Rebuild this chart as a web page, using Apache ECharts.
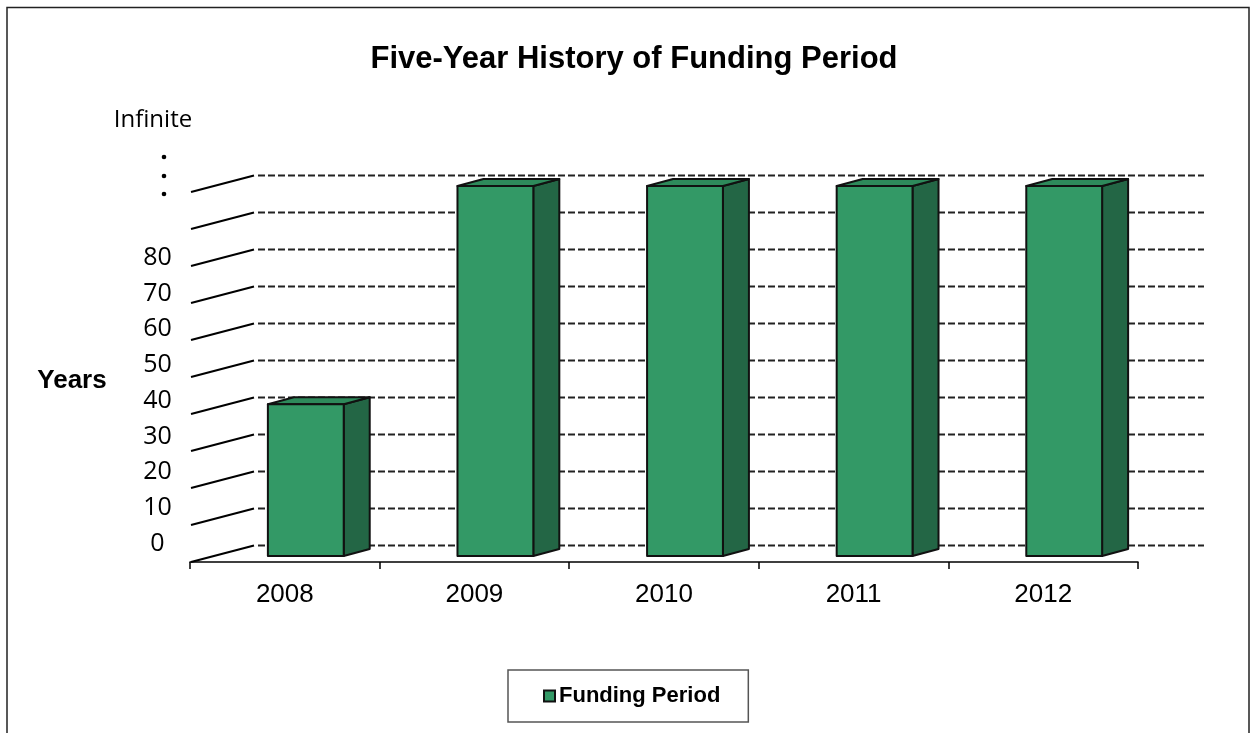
<!DOCTYPE html>
<html>
<head>
<meta charset="utf-8">
<script src="https://cdn.jsdelivr.net/npm/echarts@6/dist/echarts.min.js"></script>
<style>html,body{margin:0;padding:0;background:#fff}#c{width:1251px;height:733px}</style>
</head>
<body>
<div id="c"></div>
<script>
const categories = ['2008', '2009', '2010', '2011', '2012'];
const fundingPeriod = [41, 100, 100, 100, 100];
const gridValues = [0, 10, 20, 30, 40, 50, 60, 70, 80, 90, 100];
const labeledMax = 80;
const seriesName = 'Funding Period';

const DEPTH_X = 66, DEPTH_Y = -16.5;
const BAR_OFF_X = 21, BAR_OFF_Y = -6;
const BAR_DX = 26, BAR_DY = -7;
const FRONT = '#339966', TOP = '#2e8a5b', SIDE = '#236645', EDGE = '#111';

const chart = echarts.init(document.getElementById('c'));

const barData = categories.map((c, i) => [i, fundingPeriod[i]]);
const wallData = gridValues.map(v => [0, v]);

chart.setOption({
  animation: false,
  backgroundColor: '#fff',
  title: {
    text: 'Five-Year History of Funding Period',
    left: 629, top: 39, textAlign: 'center',
    textStyle: { fontFamily: 'Liberation Sans, Arial', fontWeight: 'bold', fontSize: 31, color: '#000' }
  },
  legend: {
    data: [{ name: seriesName, icon: 'rect', itemStyle: { color: FRONT, borderColor: EDGE, borderWidth: 2 } }],
    left: 508, top: 670,
    padding: [15, 28, 15, 35],
    itemWidth: 11, itemHeight: 11, itemGap: 5,
    borderColor: '#555', borderWidth: 1.5,
    textStyle: { fontFamily: 'Liberation Sans, Arial', fontWeight: 'bold', fontSize: 22, color: '#000', padding: [0, 0, 0, -1] }
  },
  graphic: [
    { type: 'rect', shape: { x: 7, y: 7.5, width: 1242, height: 760 }, style: { fill: 'none', stroke: '#222', lineWidth: 1.5 }, silent: true },
    { type: 'text', x: 72, y: 381, style: { text: 'Years', fontFamily: 'Liberation Sans, Arial', fontWeight: 'bold', fontSize: 26, fill: '#000', textAlign: 'center', textVerticalAlign: 'middle' } },
    { type: 'text', x: 153, y: 120, style: { text: 'Infinite', fontFamily: 'Open Sans', fontSize: 24, fill: '#000', textAlign: 'center', textVerticalAlign: 'middle' } },
    { type: 'circle', shape: { cx: 164, cy: 157, r: 2.3 }, style: { fill: '#000' } },
    { type: 'circle', shape: { cx: 164, cy: 176, r: 2.3 }, style: { fill: '#000' } },
    { type: 'circle', shape: { cx: 164, cy: 194, r: 2.3 }, style: { fill: '#000' } }
  ],
  grid: [
    { left: 190, right: 113, top: 192, bottom: 171 },
    { left: 190, right: 113, top: 186.5, bottom: 189.5 }
  ],
  xAxis: [
    {
      type: 'category', data: categories, gridIndex: 0,
      axisLine: { lineStyle: { color: '#000', width: 1.5 } },
      axisTick: { show: true, length: 7, lineStyle: { color: '#000', width: 1.5 } },
      axisLabel: { color: '#000', fontSize: 26, fontFamily: 'Liberation Sans, Arial', margin: 20 },
      splitLine: { show: false }
    },
    { type: 'category', data: categories, gridIndex: 1, show: false }
  ],
  yAxis: [
    {
      type: 'value', gridIndex: 0, min: 0, max: 100, interval: 10,
      axisLine: { show: false }, axisTick: { show: false }, axisLabel: { show: false }, splitLine: { show: false }
    },
    {
      type: 'value', gridIndex: 1, min: 0, max: 100, interval: 10,
      axisLine: { show: false }, axisTick: { show: false }, splitLine: { show: false },
      axisLabel: {
        align: 'center', margin: 32.5, color: '#000', fontSize: 25, fontFamily: 'Open Sans',
        formatter: v => (v <= labeledMax ? String(v) : '')
      }
    }
  ],
  series: [
    {
      type: 'custom', name: 'walls', xAxisIndex: 0, yAxisIndex: 0, z: 1, silent: true,
      data: wallData,
      encode: { x: 0, y: 1 },
      renderItem: function (params, api) {
        const cs = params.coordSys;
        const y = api.coord([0, api.value(1)])[1];
        const x0 = cs.x + 1;
        return {
          type: 'group',
          children: [
            { type: 'line', shape: { x1: x0, y1: y, x2: cs.x + DEPTH_X - 2, y2: y + DEPTH_Y }, style: { stroke: '#000', lineWidth: 2.2 } },
            { type: 'line', shape: { x1: cs.x + DEPTH_X + 2, y1: y + DEPTH_Y, x2: cs.x + cs.width + DEPTH_X, y2: y + DEPTH_Y }, style: { stroke: '#222', lineWidth: 2, lineDash: [7, 3] } }
          ]
        };
      }
    },
    {
      type: 'custom', name: seriesName, xAxisIndex: 0, yAxisIndex: 0, z: 5,
      itemStyle: { color: FRONT },
      data: barData,
      encode: { x: 0, y: 1 },
      renderItem: function (params, api) {
        const i = api.value(0), v = api.value(1);
        const top = api.coord([i, v]);
        const base = api.coord([i, 0]);
        const w = api.size([1, 0])[0] * 0.4;
        const cx = top[0] + BAR_OFF_X;
        const x0 = cx - w / 2, x1 = cx + w / 2;
        const yt = top[1] + BAR_OFF_Y, yb = base[1] + BAR_OFF_Y;
        const st = { stroke: EDGE, lineWidth: 2, lineJoin: 'round' };
        return {
          type: 'group',
          children: [
            { type: 'polygon', shape: { points: [[x1, yt], [x1 + BAR_DX, yt + BAR_DY], [x1 + BAR_DX, yb + BAR_DY], [x1, yb]] }, style: Object.assign({ fill: SIDE }, st) },
            { type: 'polygon', shape: { points: [[x0, yt], [x0 + BAR_DX, yt + BAR_DY], [x1 + BAR_DX, yt + BAR_DY], [x1, yt]] }, style: Object.assign({ fill: TOP }, st) },
            { type: 'polygon', shape: { points: [[x0, yb], [x0, yt], [x1, yt], [x1, yb]] }, style: Object.assign({ fill: FRONT }, st) }
          ]
        };
      }
    }
  ]
});
</script>
</body>
</html>
